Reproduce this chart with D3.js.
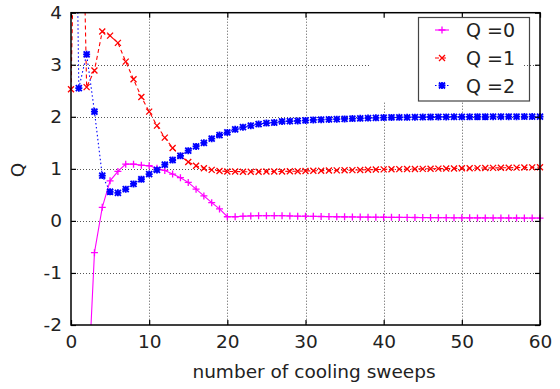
<!DOCTYPE html>
<html>
<head>
<meta charset="utf-8">
<script src="https://cdn.jsdelivr.net/npm/d3@7"></script>
<style>
  body { margin: 0; background: #ffffff; }
  svg { display: block; font-family: "DejaVu Sans", sans-serif; }
</style>
</head>
<body>
<script>
// sweep index (x)
const sweeps = [0, 1, 2, 3, 4, 5, 6, 7, 8, 9, 10, 11, 12, 13, 14, 15, 16, 17, 18, 19, 20,
    21, 22, 23, 24, 25, 26, 27, 28, 29, 30, 31, 32, 33, 34, 35, 36, 37, 38, 39, 40,
    41, 42, 43, 44, 45, 46, 47, 48, 49, 50, 51, 52, 53, 54, 55, 56, 57, 58, 59, 60];

// Q = 0 curve
const q0 = [-8, -6, -3.77, -0.61, 0.26, 0.77, 0.95, 1.09, 1.09, 1.07, 1.06,
    1.01, 0.97, 0.90, 0.83, 0.74, 0.61, 0.48, 0.35, 0.23, 0.08,
    0.08, 0.09, 0.095, 0.10, 0.10, 0.10, 0.10, 0.095, 0.09, 0.09,
    0.088, 0.085, 0.083, 0.08, 0.078, 0.076, 0.074, 0.072, 0.071, 0.07,
    0.068, 0.067, 0.066, 0.065, 0.064, 0.063, 0.062, 0.061, 0.06, 0.06,
    0.059, 0.058, 0.058, 0.057, 0.057, 0.056, 0.056, 0.055, 0.055, 0.055];

// Q = 1 curve
const q1 = [2.53, 10, 2.57, 2.89, 3.64, 3.56, 3.42, 3.06, 2.72, 2.38, 2.10,
    1.83, 1.60, 1.40, 1.25, 1.13, 1.06, 1.01, 0.98, 0.96, 0.95,
    0.95, 0.945, 0.945, 0.945, 0.95, 0.95, 0.95, 0.955, 0.955, 0.96,
    0.962, 0.965, 0.968, 0.97, 0.973, 0.976, 0.979, 0.982, 0.986, 0.99,
    0.992, 0.994, 0.996, 0.998, 1.0, 1.002, 1.004, 1.006, 1.008, 1.01,
    1.012, 1.014, 1.016, 1.018, 1.02, 1.022, 1.024, 1.026, 1.028, 1.03];

// Q = 2 curve
const q2 = [14, 2.55, 3.20, 2.10, 0.87, 0.56, 0.54, 0.61, 0.71, 0.80, 0.90,
    0.98, 1.08, 1.17, 1.25, 1.35, 1.43, 1.50, 1.58, 1.65, 1.70,
    1.76, 1.80, 1.83, 1.86, 1.88, 1.89, 1.91, 1.915, 1.92, 1.93,
    1.94, 1.945, 1.95, 1.955, 1.96, 1.965, 1.97, 1.975, 1.98, 1.985,
    1.987, 1.989, 1.991, 1.993, 1.995, 1.996, 1.997, 1.998, 1.999, 2.0,
    2.0, 2.001, 2.001, 2.002, 2.002, 2.003, 2.003, 2.004, 2.004, 2.005];

const xTicks = [0, 10, 20, 30, 40, 50, 60];
const yTicks = [-2, -1, 0, 1, 2, 3, 4];
const seriesNames = ['Q =0', 'Q =1', 'Q =2'];

const width = 560, height = 389;
const plot = {left: 71, right: 540, top: 12.7, bottom: 325};

const x = d3.scaleLinear().domain([0, 60]).range([plot.left, plot.right]);
const y = d3.scaleLinear().domain([-2, 4]).range([plot.bottom, plot.top]);

const svg = d3.select('body').append('svg')
    .attr('width', width)
    .attr('height', height);

svg.append('defs').append('clipPath').attr('id', 'plot-clip')
    .append('rect')
    .attr('x', plot.left).attr('y', plot.top)
    .attr('width', plot.right - plot.left)
    .attr('height', plot.bottom - plot.top);

// grid lines
const grid = svg.append('g')
    .attr('stroke', '#555555')
    .attr('stroke-width', 1)
    .attr('stroke-dasharray', '1,2');
grid.selectAll('.gx')
    .data(xTicks.filter(d => d > 0 && d < 60))
    .enter().append('line')
    .attr('x1', d => Math.round(x(d)) + 0.5).attr('x2', d => Math.round(x(d)) + 0.5)
    .attr('y1', plot.top).attr('y2', plot.bottom);
grid.selectAll('.gy')
    .data(yTicks.filter(d => d > -2 && d < 4))
    .enter().append('line')
    .attr('y1', d => Math.round(y(d)) + 0.5).attr('y2', d => Math.round(y(d)) + 0.5)
    .attr('x1', plot.left).attr('x2', plot.right);

// opaque key area hides grid behind it
svg.append('rect')
    .attr('x', 369).attr('y', plot.top + 1)
    .attr('width', 523 - 369).attr('height', 102 - plot.top - 1)
    .attr('fill', '#ffffff');

// series definitions
const plus = 'M-3.5,0H3.5M0,-3.5V3.5';
const cross = 'M-3,-3L3,3M-3,3L3,-3';
const star = plus + cross;
const series = [
    {name: seriesNames[0], values: q0, color: '#ff00ff', dash: null, marker: plus, mw: 1.3},
    {name: seriesNames[1], values: q1, color: '#ff0000', dash: '4,3', marker: cross, mw: 1.3},
    {name: seriesNames[2], values: q2, color: '#0000ff', dash: '1.5,2.5', marker: star, mw: 1.8}
];

const line = d3.line()
    .x(d => x(d[0]))
    .y(d => y(d[1]));

const marks = svg.append('g');
series.forEach(s => {
    const pts = sweeps.map((xv, i) => [xv, s.values[i]]);
    marks.append('path')
        .attr('clip-path', 'url(#plot-clip)')
        .attr('d', line(pts))
        .attr('fill', 'none')
        .attr('stroke', s.color)
        .attr('stroke-width', 1.1)
        .attr('stroke-dasharray', s.dash);
    // markers only for points inside the y range
    marks.append('g').selectAll('path')
        .data(pts.filter(d => d[1] >= -2 && d[1] <= 4))
        .enter().append('path')
        .attr('transform', d => `translate(${x(d[0])},${y(d[1])})`)
        .attr('d', s.marker)
        .attr('fill', 'none')
        .attr('stroke', s.color)
        .attr('stroke-width', s.mw);
});

// axes, ticks point inward
const fontSize = 18.5;
const plainFormat = d => String(d);
svg.append('g')
    .attr('transform', `translate(0,${plot.bottom})`)
    .call(d3.axisBottom(x).tickValues(xTicks).tickFormat(plainFormat)
        .tickSizeInner(-5).tickSizeOuter(0).tickPadding(10));
svg.append('g')
    .attr('transform', `translate(${plot.left},0)`)
    .call(d3.axisLeft(y).tickValues(yTicks).tickFormat(plainFormat)
        .tickSizeInner(-5).tickSizeOuter(0).tickPadding(9));
svg.append('g')
    .attr('transform', `translate(0,${plot.top})`)
    .call(d3.axisTop(x).tickValues(xTicks).tickSizeInner(-5).tickSizeOuter(0).tickFormat(''));
svg.append('g')
    .attr('transform', `translate(${plot.right},0)`)
    .call(d3.axisRight(y).tickValues(yTicks).tickSizeInner(-5).tickSizeOuter(0).tickFormat(''));

svg.selectAll('.domain').remove();
svg.selectAll('.tick line').attr('stroke', '#000000').attr('stroke-width', 1.2);
svg.selectAll('.tick text')
    .attr('fill', '#222222')
    .style('font-size', fontSize + 'px')
    .style('font-family', '"DejaVu Sans", sans-serif');

// border
svg.append('rect')
    .attr('x', plot.left).attr('y', plot.top)
    .attr('width', plot.right - plot.left)
    .attr('height', plot.bottom - plot.top)
    .attr('fill', 'none')
    .attr('stroke', '#000000')
    .attr('stroke-width', 1.5);

// axis titles
svg.append('text')
    .attr('x', 314).attr('y', 378)
    .attr('text-anchor', 'middle')
    .attr('fill', '#222222')
    .style('font-size', fontSize + 'px')
    .text('number of cooling sweeps');
svg.append('text')
    .attr('transform', 'translate(24,170) rotate(-90)')
    .attr('text-anchor', 'middle')
    .attr('fill', '#222222')
    .style('font-size', fontSize + 'px')
    .text('Q');

// key
const key = svg.append('g');
key.append('rect')
    .attr('x', 418.5).attr('y', 17.5)
    .attr('width', 111).attr('height', 83.5)
    .attr('fill', 'none')
    .attr('stroke', '#444444')
    .attr('stroke-width', 1.2);
const keyRows = [30, 58, 85.5];
series.forEach((s, i) => {
    const ky = keyRows[i];
    key.append('line')
        .attr('x1', 435).attr('x2', 449)
        .attr('y1', ky).attr('y2', ky)
        .attr('stroke', s.color)
        .attr('stroke-width', 1.1)
        .attr('stroke-dasharray', s.dash);
    key.append('path')
        .attr('transform', `translate(442,${ky})`)
        .attr('d', s.marker)
        .attr('fill', 'none')
        .attr('stroke', s.color)
        .attr('stroke-width', s.mw);
    key.append('text')
        .attr('x', 466).attr('y', ky + 7)
        .attr('fill', '#222222')
        .style('font-size', '19px')
        .text(s.name);
});
</script>
</body>
</html>
